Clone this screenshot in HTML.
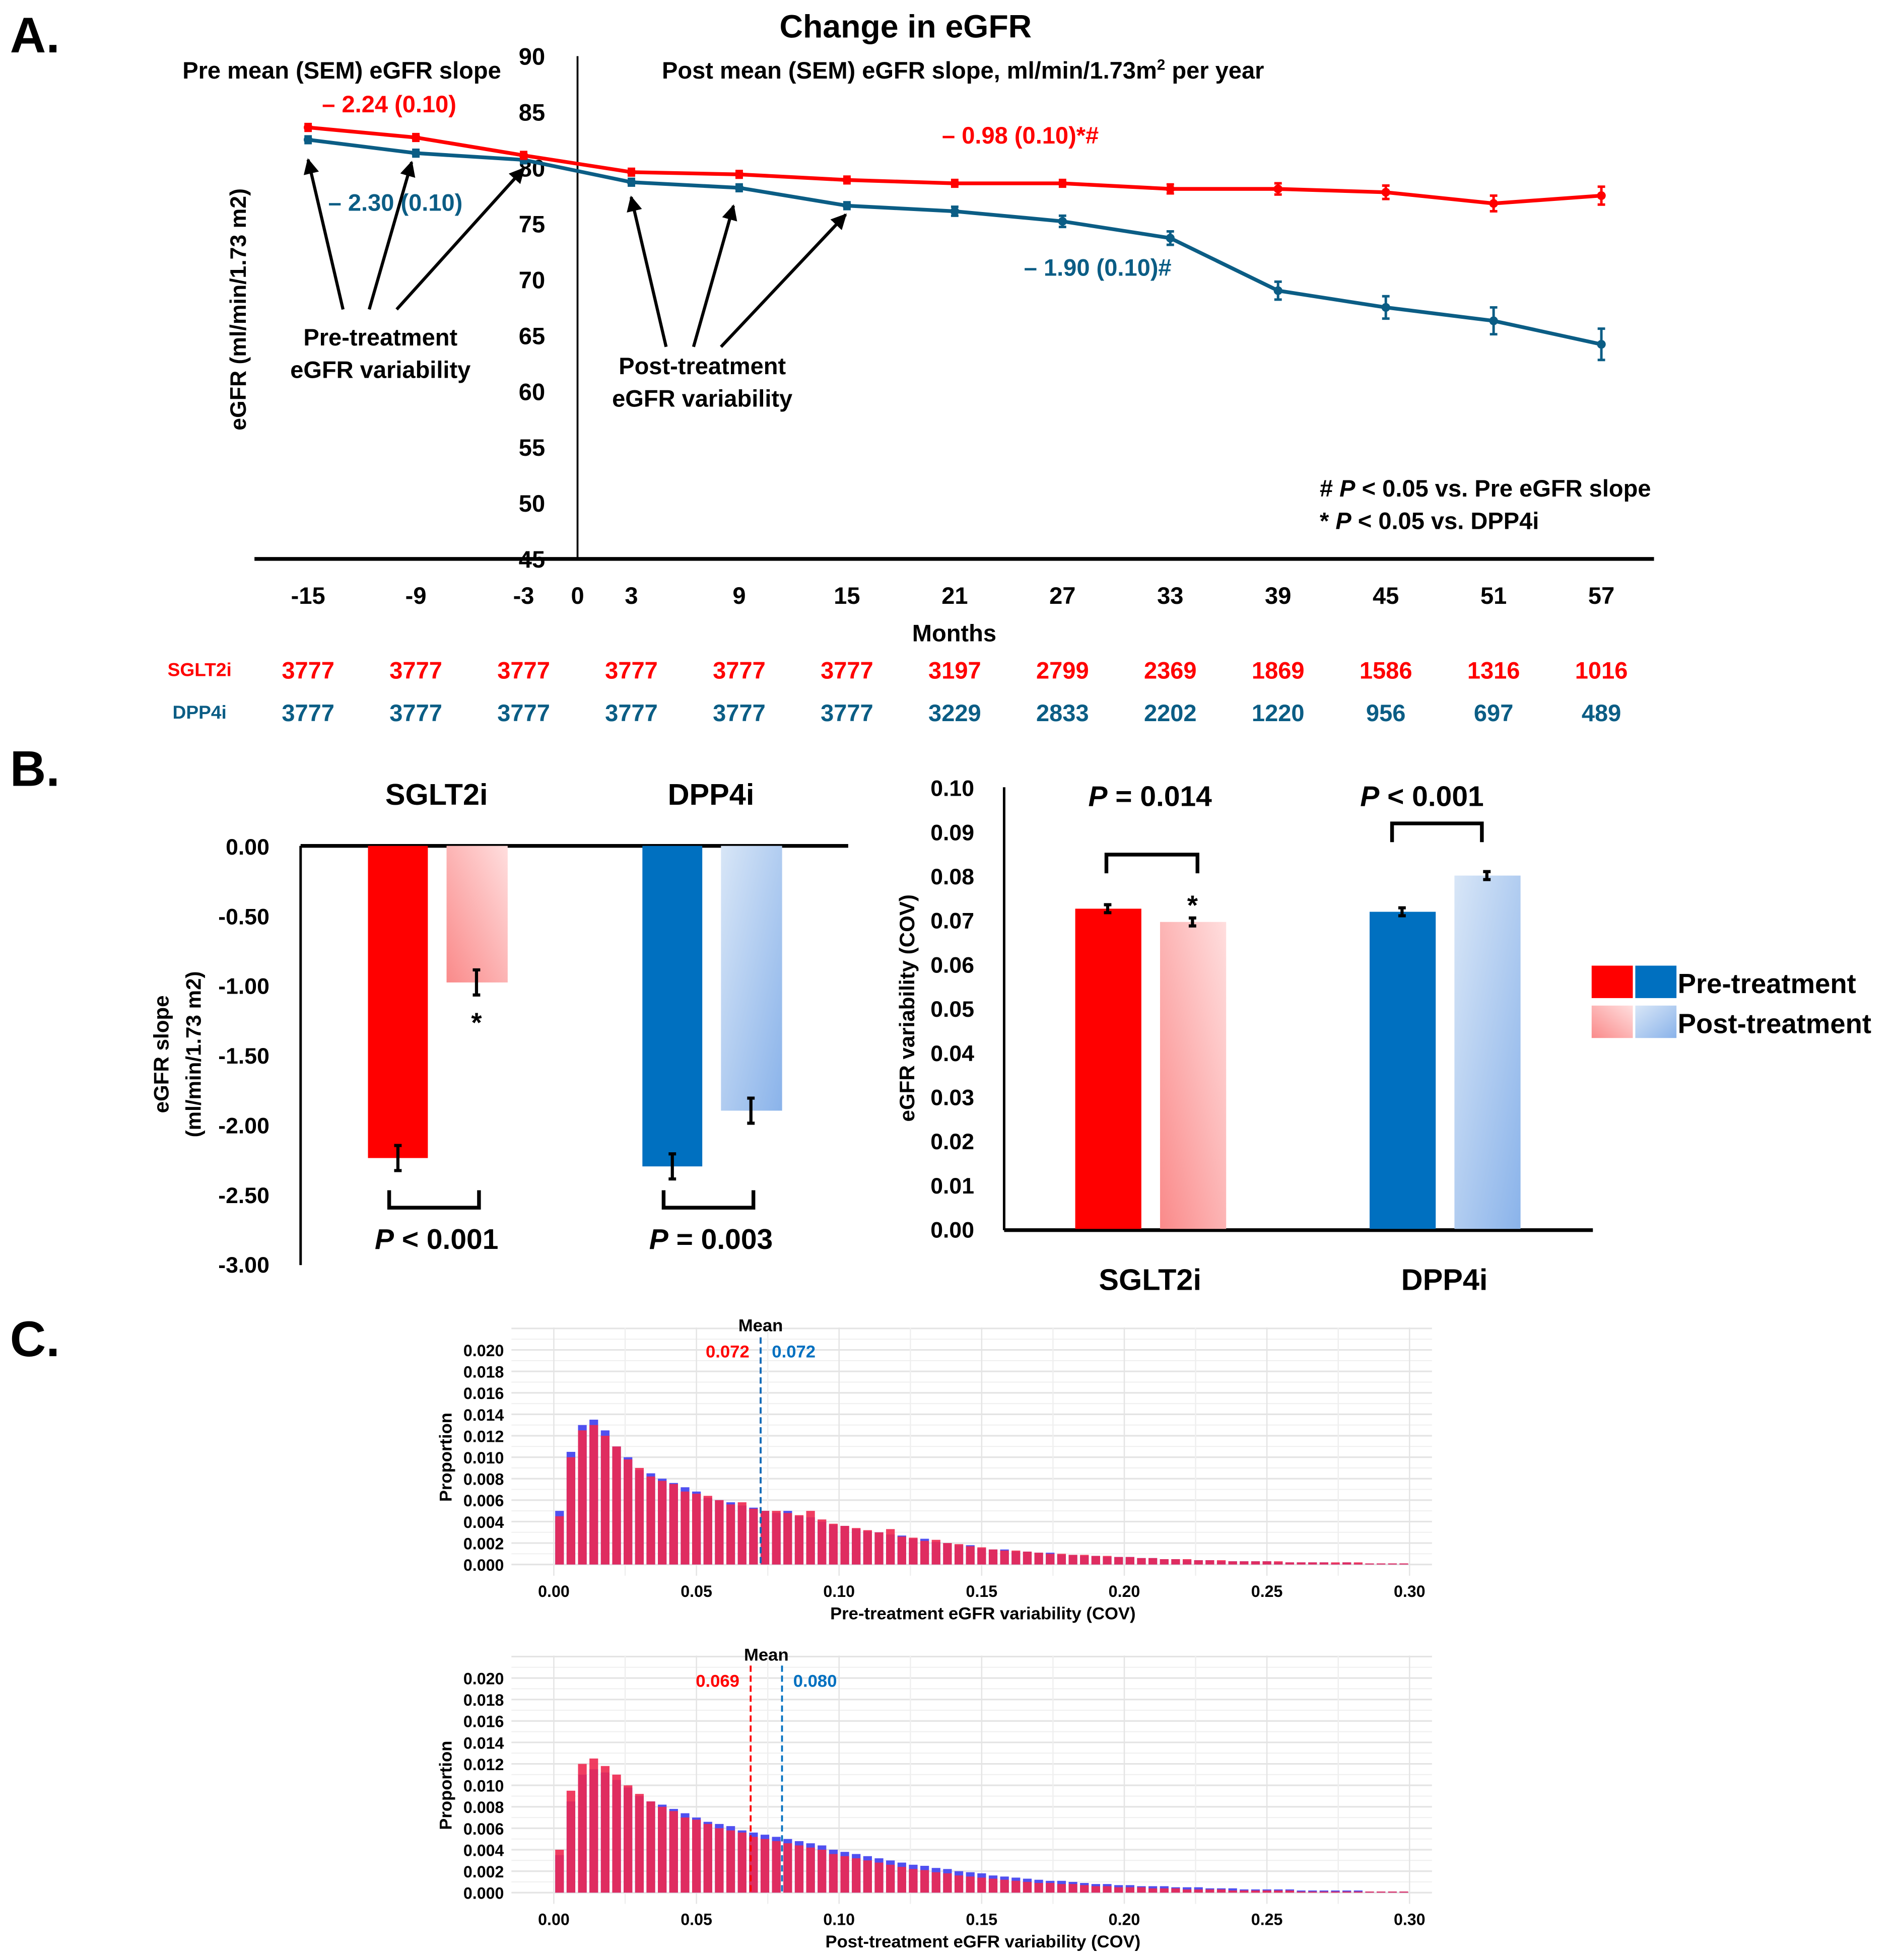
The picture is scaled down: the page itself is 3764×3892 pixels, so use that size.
<!DOCTYPE html>
<html><head><meta charset="utf-8"><style>
html,body{margin:0;padding:0;background:#fff;}
svg{display:block;font-family:"Liberation Sans",sans-serif;}
text{font-weight:bold;}
</style></head><body>
<svg id="fig" xmlns="http://www.w3.org/2000/svg" width="3764" height="3892" viewBox="0 0 1520 1571" preserveAspectRatio="none">
<defs>
<linearGradient id="gRedPost2" x1="0" y1="1" x2="1" y2="0"><stop offset="0" stop-color="#fa8a8a"/><stop offset="1" stop-color="#ffdede"/></linearGradient>
<linearGradient id="gBluePost" x1="0" y1="0" x2="1" y2="1"><stop offset="0" stop-color="#d8e6f7"/><stop offset="1" stop-color="#8ab3ea"/></linearGradient>
<marker id="arr" viewBox="0 0 10 10" refX="9" refY="5" markerWidth="5" markerHeight="5" orient="auto"><path d="M0,0 L10,5 L0,10 z" fill="#000"/></marker>
</defs>
<g id="panelA"></g>
<g id="panelB1"></g>
<g id="panelB2"></g>
<g id="panelC1"></g>
<g id="panelC2"></g>
</svg>
<script>
// ---------- Panel A data ----------
const months = [-15,-9,-3,3,9,15,21,27,33,39,45,51,57];
const sgltMean = [83.6,82.7,81.1,79.6,79.4,78.9,78.6,78.6,78.1,78.1,77.8,76.8,77.5];
const sgltErr = [0.3,0.3,0.3,0.3,0.3,0.3,0.3,0.3,0.4,0.5,0.6,0.7,0.8];
const dppMean = [82.5,81.3,80.7,78.7,78.2,76.6,76.1,75.2,73.7,69.0,67.5,66.3,64.2];
const dppErr = [0.3,0.3,0.3,0.3,0.3,0.3,0.4,0.5,0.6,0.8,1.0,1.2,1.4];
const yTicksA = [45,50,55,60,65,70,75,80,85,90];
const xTicksA = [-15,-9,-3,0,3,9,15,21,27,33,39,45,51,57];
const nSglt = ["3777","3777","3777","3777","3777","3777","3197","2799","2369","1869","1586","1316","1016"];
const nDpp = ["3777","3777","3777","3777","3777","3777","3229","2833","2202","1220","956","697","489"];
// ---------- Panel B data ----------
const slopeGroups = ["SGLT2i","DPP4i"];
const slopePre = [-2.24,-2.30];
const slopePost = [-0.98,-1.90];
const slopeErr = [0.09,0.09];
const slopeTicks = [0,-0.5,-1,-1.5,-2,-2.5,-3];
const covPre = [0.0725,0.0718];
const covPost = [0.0695,0.0800];
const covErr = [0.0009,0.0009];
const covTicks = [0,0.01,0.02,0.03,0.04,0.05,0.06,0.07,0.08,0.09,0.10];
// ---------- Panel C data (bin width 0.004) ----------
const binWidth = 0.004;
const preRed = [0.0045,0.0100,0.0125,0.0130,0.0120,0.0110,0.0098,0.0090,0.0082,0.0078,
0.0075,0.0068,0.0066,0.0064,0.0060,0.0056,0.0058,0.0052,0.0050,0.0050,
0.0048,0.0046,0.0050,0.0042,0.0038,0.0036,0.0034,0.0032,0.0030,0.0033,
0.0026,0.0025,0.0022,0.0023,0.0020,0.0019,0.0017,0.0016,0.0014,0.0013,
0.0013,0.0012,0.0011,0.0010,0.0010,0.0009,0.0009,0.0008,0.0008,0.0007,
0.0007,0.0006,0.0006,0.0005,0.0005,0.0005,0.0004,0.0004,0.0004,0.0003,
0.0003,0.0003,0.0003,0.0003,0.0002,0.0002,0.0002,0.0002,0.0002,0.0002,
0.0002,0.0001,0.0001,0.0001,0.0001];
const preBlue = [0.0050,0.0105,0.0130,0.0135,0.0125,0.0110,0.0100,0.0088,0.0085,0.0080,
0.0076,0.0072,0.0068,0.0062,0.0060,0.0058,0.0055,0.0053,0.0050,0.0048,
0.0050,0.0045,0.0044,0.0040,0.0037,0.0036,0.0033,0.0031,0.0030,0.0028,
0.0027,0.0024,0.0024,0.0021,0.0020,0.0018,0.0018,0.0015,0.0014,0.0014,
0.0012,0.0012,0.0011,0.0011,0.0009,0.0009,0.0008,0.0008,0.0007,0.0007,
0.0007,0.0006,0.0006,0.0005,0.0005,0.0004,0.0004,0.0004,0.0003,0.0003,
0.0003,0.0003,0.0003,0.0002,0.0002,0.0002,0.0002,0.0002,0.0001,0.0002,
0.0001,0.0001,0.0001,0.0001,0.0001];
const postRed = [0.0040,0.0095,0.0120,0.0125,0.0118,0.0110,0.0100,0.0092,0.0085,0.0080,
0.0076,0.0070,0.0068,0.0064,0.0060,0.0058,0.0056,0.0052,0.0050,0.0048,
0.0046,0.0044,0.0042,0.0040,0.0036,0.0034,0.0032,0.0030,0.0028,0.0026,
0.0024,0.0022,0.0021,0.0019,0.0018,0.0016,0.0015,0.0014,0.0013,0.0012,
0.0011,0.0010,0.0009,0.0009,0.0008,0.0008,0.0007,0.0006,0.0006,0.0005,
0.0005,0.0005,0.0004,0.0004,0.0004,0.0003,0.0003,0.0003,0.0003,0.0002,
0.0002,0.0002,0.0002,0.0002,0.0002,0.0001,0.0001,0.0001,0.0001,0.0001,
0.0001,0.0001,0.0001,0.0001,0.0001];
const postBlue = [0.0035,0.0085,0.0110,0.0115,0.0112,0.0105,0.0098,0.0090,0.0085,0.0082,
0.0078,0.0074,0.0070,0.0066,0.0064,0.0062,0.0058,0.0056,0.0054,0.0052,
0.0050,0.0048,0.0046,0.0044,0.0040,0.0038,0.0036,0.0034,0.0032,0.0030,
0.0028,0.0026,0.0025,0.0023,0.0022,0.0020,0.0019,0.0018,0.0016,0.0015,
0.0014,0.0013,0.0012,0.0011,0.0011,0.0010,0.0009,0.0008,0.0008,0.0007,
0.0007,0.0006,0.0006,0.0006,0.0005,0.0005,0.0005,0.0004,0.0004,0.0004,
0.0003,0.0003,0.0003,0.0003,0.0003,0.0002,0.0002,0.0002,0.0002,0.0002,
0.0002,0.0001,0.0001,0.0001,0.0001];
const histYTicks = [0,0.002,0.004,0.006,0.008,0.010,0.012,0.014,0.016,0.018,0.020];
const histXTicks = [0,0.05,0.10,0.15,0.20,0.25,0.30];
const meanPre = [0.0725,0.0725];
const meanPost = [0.069,0.080];

const NS = "http://www.w3.org/2000/svg";
function el(tag, attrs, parent){
  const e = document.createElementNS(NS, tag);
  for (const k in attrs) e.setAttribute(k, attrs[k]);
  parent.appendChild(e);
  return e;
}
function txt(parent, x, y, s, size, opts){
  opts = opts || {};
  const t = el("text", {x:x, y:y, "font-size":size, "text-anchor":opts.anchor||"middle", fill:opts.fill||"#000"}, parent);
  if (opts.rot) t.setAttribute("transform", "rotate(-90 "+x+" "+y+")");
  t.innerHTML = s;
  return t;
}
const svg = document.getElementById("fig");

// ================= Panel A =================
const A = document.getElementById("panelA");
const ax = m => 463 + m*14.4;
const ay = v => 448 - (v-45)*8.96;
let t;
t = txt(svg, 8, 42, "A.", 40, {anchor:"start"});


t = txt(A, 726, 30, "Change in eGFR", 26);


let ln = el("line", {x1:463, y1:45, x2:463, y2:448, stroke:"#000", "stroke-width":1.5}, A);


ln = el("line", {x1:204, y1:448, x2:1326, y2:448, stroke:"#000", "stroke-width":3}, A);


yTicksA.forEach(v => {
  const tk = txt(A, 437, ay(v)+7, String(v), 19, {anchor:"end"});
  
  
});
xTicksA.forEach(m => {
  const tk = txt(A, ax(m), 484, String(m), 19);
  
  
});
t = txt(A, 765, 514, "Months", 19);


t = txt(A, 197, 248, "eGFR (ml/min/1.73 m2)", 18, {rot:true});


function series(g, means, errs, color, name){
  const pts = months.map((m,i) => ax(m)+","+ay(means[i])).join(" ");
  const pl = el("polyline", {points:pts, fill:"none", stroke:color, "stroke-width":3}, g);
  
  
  months.forEach((m,i) => {
    const x = ax(m), y = ay(means[i]);
    const eb = el("path", {d:"M"+x+","+ay(means[i]+errs[i])+"V"+ay(means[i]-errs[i])+"M"+(x-3)+","+ay(means[i]+errs[i])+"h6M"+(x-3)+","+ay(means[i]-errs[i])+"h6", stroke:color, "stroke-width":2, fill:"none"}, g);
    
    
    const c = el("circle", {cx:x, cy:y, r:3.5, fill:color}, g);
    
    
  });
}
series(A, dppMean, dppErr, "#0b5d85", "dpp4i");
series(A, sgltMean, sgltErr, "#ff0000", "sglt2i");
[[275,248,247,128],[296,248,330,130],[318,248,420,135],[534,278,506,158],[556,278,588,165],[578,278,678,172]].forEach(a => {
  const ar = el("line", {x1:a[0], y1:a[1], x2:a[2], y2:a[3], stroke:"#000", "stroke-width":2.5, "marker-end":"url(#arr)"}, A);
  
  
});
const annA = [
 [274,63,"Pre mean (SEM) eGFR slope","#000","pre-slope-heading"],
 [772,63,"Post mean (SEM) eGFR slope, ml/min/1.73m<tspan font-size='12' dy='-7'>2</tspan><tspan dy='7'> per year</tspan>","#000","post-slope-heading"],
 [312,90,"– 2.24 (0.10)","#ff0000","pre-slope-sglt2i"],
 [317,169,"– 2.30 (0.10)","#0b5d85","pre-slope-dpp4i"],
 [818,115,"– 0.98 (0.10)*#","#ff0000","post-slope-sglt2i"],
 [880,221,"– 1.90 (0.10)#","#0b5d85","post-slope-dpp4i"],
 [305,277,"Pre-treatment","#000","pre-variability-label"],
 [305,303,"eGFR variability","#000","pre-variability-label-2"],
 [563,300,"Post-treatment","#000","post-variability-label"],
 [563,326,"eGFR variability","#000","post-variability-label-2"]];
annA.forEach(a => {
  const tt = txt(A, a[0], a[1], a[2], 19, {fill:a[3]});
  
  
});
t = txt(A, 1058, 398, "# <tspan font-style='italic'>P</tspan> &lt; 0.05 vs. Pre eGFR slope", 19, {anchor:"start"});


t = txt(A, 1058, 424, "* <tspan font-style='italic'>P</tspan> &lt; 0.05 vs. DPP4i", 19, {anchor:"start"});


t = txt(A, 160, 542, "SGLT2i", 15, {fill:"#ff0000"});


t = txt(A, 160, 576, "DPP4i", 15, {fill:"#0b5d85"});


months.forEach((m,i) => {
  const a1 = txt(A, ax(m), 544, nSglt[i], 19, {fill:"#ff0000"});
  
  
  const a2 = txt(A, ax(m), 578, nDpp[i], 19, {fill:"#0b5d85"});
  
  
});

// ================= Panel B left =================
t = txt(svg, 8, 630, "B.", 40, {anchor:"start"});


const B1 = document.getElementById("panelB1");
const sy = v => 678 - v*111.7;
ln = el("line", {x1:241, y1:678, x2:241, y2:1014, stroke:"#000", "stroke-width":2}, B1);


ln = el("line", {x1:241, y1:678, x2:680, y2:678, stroke:"#000", "stroke-width":3}, B1);


slopeTicks.forEach(v => {
  const tk = txt(B1, 216, sy(v)+7, v.toFixed(2), 18, {anchor:"end"});
  
  
});
t = txt(B1, 135, 845, "eGFR slope", 17, {rot:true});


t = txt(B1, 161, 845, "(ml/min/1.73 m2)", 17, {rot:true});


const groupX1 = [295, 515];
const pLabels1 = ["<tspan font-style='italic'>P</tspan> &lt; 0.001","<tspan font-style='italic'>P</tspan> = 0.003"];
slopeGroups.forEach((g,i) => {
  const x0 = groupX1[i];
  const cPre = i===0 ? "#ff0000" : "#0070c0";
  const cPost = i===0 ? "url(#gRedPost2)" : "url(#gBluePost)";
  const b1 = el("rect", {x:x0, y:678, width:48, height:sy(slopePre[i])-678, fill:cPre}, B1);
  
  
  const b2 = el("rect", {x:x0+63, y:678, width:49, height:sy(slopePost[i])-678, fill:cPost}, B1);
  
  
  [[x0+24, slopePre[i]],[x0+87, slopePost[i]]].forEach(p => {
    const e = el("path", {d:"M"+p[0]+","+sy(p[1]-slopeErr[i])+"V"+sy(p[1]+slopeErr[i])+"M"+(p[0]-3)+","+sy(p[1]-slopeErr[i])+"h6M"+(p[0]-3)+","+sy(p[1]+slopeErr[i])+"h6", stroke:"#000", "stroke-width":2.5, fill:"none"}, B1);
    
    
  });
  const gl = txt(B1, x0+55, 645, g, 24);
  
  
  const br = el("path", {d:"M"+(x0+17)+",954V968H"+(x0+89)+"V954", stroke:"#000", "stroke-width":3, fill:"none"}, B1);
  
  
  const pl = txt(B1, x0+55, 1001, pLabels1[i], 23);
  
  
});
t = txt(B1, 382, 827, "*", 22);



// ================= Panel B right =================
const B2 = document.getElementById("panelB2");
const cy = v => 985 - v*3540;
ln = el("line", {x1:805, y1:631, x2:805, y2:986, stroke:"#000", "stroke-width":2}, B2);


ln = el("line", {x1:805, y1:986, x2:1277, y2:986, stroke:"#000", "stroke-width":3}, B2);


covTicks.forEach(v => {
  const tk = txt(B2, 781, cy(v)+7, v.toFixed(2), 18, {anchor:"end"});
  
  
});
t = txt(B2, 733, 808, "eGFR variability (COV)", 17, {rot:true});


const groupX2 = [862, 1098];
const pLabels2 = ["<tspan font-style='italic'>P</tspan> = 0.014","<tspan font-style='italic'>P</tspan> &lt; 0.001"];
slopeGroups.forEach((g,i) => {
  const x0 = groupX2[i];
  const cPre = i===0 ? "#ff0000" : "#0070c0";
  const cPost = i===0 ? "url(#gRedPost2)" : "url(#gBluePost)";
  const b1 = el("rect", {x:x0, y:cy(covPre[i]), width:53, height:985-cy(covPre[i]), fill:cPre}, B2);
  
  
  const b2 = el("rect", {x:x0+68, y:cy(covPost[i]), width:53, height:985-cy(covPost[i]), fill:cPost}, B2);
  
  
  [[x0+26, covPre[i]],[x0+94, covPost[i]]].forEach(p => {
    const e = el("path", {d:"M"+p[0]+","+cy(p[1]-covErr[i])+"V"+cy(p[1]+covErr[i])+"M"+(p[0]-3)+","+cy(p[1]-covErr[i])+"h6M"+(p[0]-3)+","+cy(p[1]+covErr[i])+"h6", stroke:"#000", "stroke-width":2.5, fill:"none"}, B2);
    
    
  });
  const gl = txt(B2, x0+60, 1034, g, 24);
  
  
  const pl = txt(B2, x0+60 - (i===1?18:0), 646, pLabels2[i], 23);
  
  
});
let br2 = el("path", {d:"M887,700V685H960V700", stroke:"#000", "stroke-width":3, fill:"none"}, B2);


br2 = el("path", {d:"M1116,675V660H1188V675", stroke:"#000", "stroke-width":3, fill:"none"}, B2);


t = txt(B2, 956, 733, "*", 22);


const lg = el("g", {}, B2);


[[1276,774,"#ff0000"],[1311,774,"#0070c0"],[1276,806,"url(#gRedPost2)"],[1311,806,"url(#gBluePost)"]].forEach(s => {
  const r = el("rect", {x:s[0], y:s[1], width:33, height:26, fill:s[2]}, lg);
  
  
});
t = txt(lg, 1345, 796, "Pre-treatment", 22, {anchor:"start"});


t = txt(lg, 1345, 828, "Post-treatment", 22, {anchor:"start"});



// ================= Panel C =================
t = txt(svg, 8, 1087, "C.", 40, {anchor:"start"});


function hist(g, y0, red, blue, means, meanLabels, xTitle, meanTextY){
  const hx = v => 444 + v*2286.7;
  const hy = v => y0 - v*8600;
  for (let k=0; k<=22; k++){
    const yy = hy(k*0.001);
    const gl = el("line", {x1:410, y1:yy, x2:1148, y2:yy, stroke:k%2===0?"#e4e4e4":"#efefef", "stroke-width":k%2===0?1.3:0.8}, g);
    
    
  }
  for (let k=0; k<=12; k++){
    const xx = hx(k*0.025);
    const gl = el("line", {x1:xx, y1:y0-190, x2:xx, y2:y0+9, stroke:k%2===0?"#e4e4e4":"#efefef", "stroke-width":1}, g);
    
    
  }
  const bw = binWidth*2286.7;
  blue.forEach((v,i) => {
    const r = el("rect", {x:hx(i*binWidth)+bw*0.12, y:hy(v), width:bw*0.76, height:y0-hy(v), fill:"#5050f0"}, g);
    
    
  });
  red.forEach((v,i) => {
    const r = el("rect", {x:hx(i*binWidth)+bw*0.12, y:hy(v), width:bw*0.76, height:y0-hy(v), fill:"#ee2850", "fill-opacity":0.9}, g);
    
    
  });
  histYTicks.forEach(v => {
    const tk = txt(g, 404, hy(v)+5, v.toFixed(3), 13, {anchor:"end"});
    
    
  });
  histXTicks.forEach(v => {
    const tk = txt(g, hx(v), y0+26, v.toFixed(2), 13);
    
    
  });
  const xt = txt(g, 788, y0+44, xTitle, 14);
  
  
  const yt = txt(g, 362, y0-86, "Proportion", 14, {rot:true});
  
  
  const cols = ["#ff0000","#0070c0"];
  means.forEach((m,i) => {
    const ml = el("line", {x1:hx(m), y1:y0-182, x2:hx(m), y2:y0, stroke:cols[i], "stroke-width":1.5, "stroke-dasharray":"5,3"}, g);
    
    
  });
  const mid = (hx(means[0])+hx(means[1]))/2;
  const mt = txt(g, mid, meanTextY, "Mean", 14);
  
  
  const r1 = txt(g, Math.min(hx(means[0]), hx(means[1]))-9, meanTextY+21, meanLabels[0], 14, {anchor:"end", fill:"#ff0000"});
  
  
  const r2 = txt(g, Math.max(hx(means[0]), hx(means[1]))+9, meanTextY+21, meanLabels[1], 14, {anchor:"start", fill:"#0070c0"});
  
  
}
hist(document.getElementById("panelC1"), 1254, preRed, preBlue, meanPre, ["0.072","0.072"], "Pre-treatment eGFR variability (COV)", 1067);
hist(document.getElementById("panelC2"), 1517, postRed, postBlue, meanPost, ["0.069","0.080"], "Post-treatment eGFR variability (COV)", 1331);
</script>
</body></html>
